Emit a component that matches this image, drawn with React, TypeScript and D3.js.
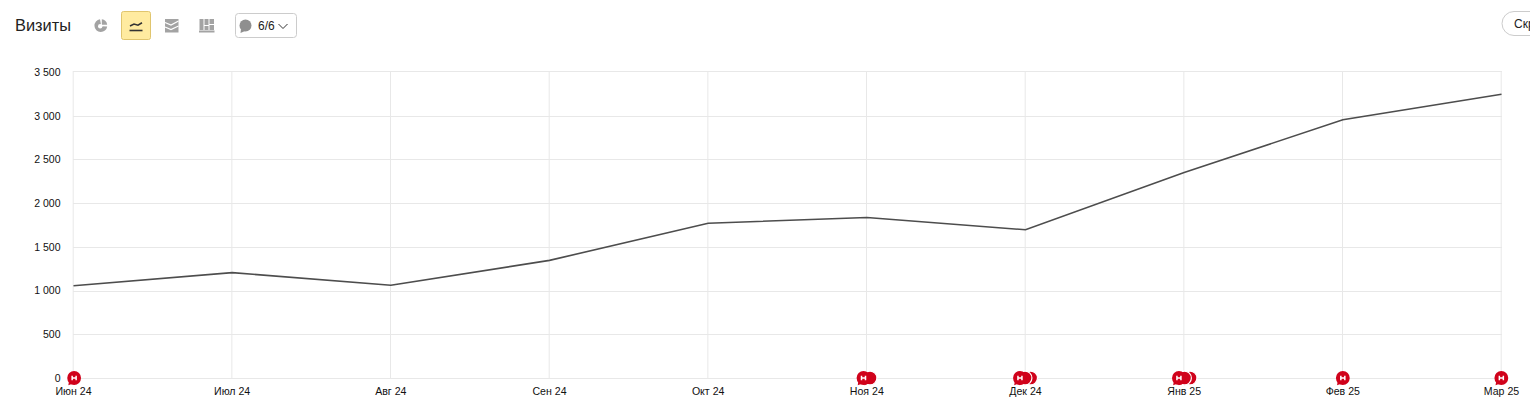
import React from "react";
import * as d3 from "d3";

const title = "Визиты";
const months = ["Июн 24", "Июл 24", "Авг 24", "Сен 24", "Окт 24", "Ноя 24", "Дек 24", "Янв 25", "Фев 25", "Мар 25"];
const visits = [1055, 1205, 1060, 1345, 1770, 1835, 1695, 2350, 2952, 3245];
const yTicks = [0, 500, 1000, 1500, 2000, 2500, 3000, 3500];
const yTickLabels = ["0", "500", "1 000", "1 500", "2 000", "2 500", "3 000", "3 500"];
// month positions of the notes; the first of each cluster lies on top
const noteClusters = [[0.004], [4.979, 5.02], [5.965, 5.997, 6.032], [6.967, 7.002, 7.037], [8], [8.999]];
const counterLabel = "6/6";
const cutLabel = "Скрыть";

const FONT = "'Liberation Sans', Arial, sans-serif";
const INK = "#4d4d4d";
const GRID = "#e8e8e8";
const RED = "#d0021b";
const ICON = "#a3a3a3";

function Marker({ x, y, front }: { x: number; y: number; front: boolean }) {
  return (
    <g transform={`translate(${x},${y})`}>
      <circle r={6.9} fill={RED} stroke="#fff" strokeWidth={front ? 0 : 1.2} />
      <path d="M-5,3 L-5.8,7.2 L-1,5.5 Z" fill={RED} />
      {front && (
        <path d="M-2,-2.3 V2.3 M2,-2.3 V2.3 M-2,0 H2" stroke="#fff" strokeWidth={1.5} fill="none" />
      )}
    </g>
  );
}

export default function App() {
  const x = d3.scaleLinear().domain([0, months.length - 1]).range([73.5, 1501.5]);
  const y = d3.scaleLinear().domain([0, 3500]).range([378, 71.9]);
  const line = d3.line<number>().x((_, i) => x(i)).y((d) => y(d));
  const gridY = (t: number) => (t === 3500 ? Math.floor(y(t)) : Math.round(y(t))) + 0.5;

  return (
    <svg
      width={1530}
      height={411}
      style={{ position: "absolute", left: 0, top: 0, display: "block", background: "#fff" }}
      fontFamily={FONT}
    >
      <text x={15} y={31} fontSize={16.4} fill="#222">{title}</text>

      {/* pie icon */}
      <g transform="translate(100.8,25.7)">
        <path d="M-0.8,-6.4 A6.4,6.4 0 1,0 6.4,0.8 L0.5,0.5 Z" fill={ICON} />
        <path d="M1,-6.4 A6.4,6.4 0 0,1 6.4,-1 L1,-1 Z" fill={ICON} />
        <circle r={2.2} cx={-0.6} cy={0.6} fill="#fff" />
      </g>

      {/* active line icon */}
      <rect x={121.5} y={11.5} width={29} height={28} rx={2} fill="#ffeba0" stroke="#e0c56e" />
      <path d="M130,26 L134,24 L138,25.2 L142,22.8" fill="none" stroke="#333" strokeWidth={1.6} />
      <path d="M129.5,30.5 H142.5" stroke="#333" strokeWidth={1.6} />

      {/* area icon */}
      <rect x={165} y={19} width={13.5} height={13.5} fill={ICON} />
      <g fill="none" stroke="#fff" strokeWidth={1.2}>
        <path d="M165,22.5 L171,25 L178.5,21" />
        <path d="M165,27 L171,29.5 L178.5,26" />
      </g>

      {/* column icon */}
      <g fill={ICON}>
        <rect x={199.5} y={19} width={4} height={11} />
        <rect x={204.5} y={19} width={4} height={6} />
        <rect x={204.5} y={26} width={4} height={4} />
        <rect x={209.5} y={19} width={4.5} height={5} />
        <rect x={209.5} y={25} width={4.5} height={5} />
        <rect x={199} y={30.5} width={15.5} height={2} />
      </g>

      {/* note filter button */}
      <rect x={235.5} y={13.5} width={61} height={24} rx={3} fill="#fff" stroke="#ccc" />
      <circle cx={245.5} cy={25.5} r={6} fill="#8f8f8f" />
      <path d="M241,29 L240.5,33 L245,31 Z" fill="#8f8f8f" />
      <text x={258} y={30} fontSize={12} fill="#222">{counterLabel}</text>
      <path d="M278.5,24 L283,28.5 L287.5,24" fill="none" stroke="#333" strokeWidth={1} />

      {/* cut-off pill */}
      <path d="M1530,11.5 H1514 A12,12 0 0,0 1514,35.5 H1530" fill="#fff" stroke="#ccc" />
      <text x={1514} y={28} fontSize={12} fill="#222">{cutLabel}</text>

      {/* grid */}
      <g stroke={GRID} strokeWidth={1}>
        {yTicks.map((t) => (
          <line key={t} x1={73} x2={1502} y1={gridY(t)} y2={gridY(t)} shapeRendering="crispEdges" />
        ))}
        {months.map((m, i) => (
          <line key={m} x1={x(i) - 0.3} x2={x(i) - 0.3} y1={71} y2={378} />
        ))}
      </g>

      {/* y axis labels */}
      <g fontSize={10.5} fill="#111" textAnchor="end">
        {yTicks.map((t, i) => (
          <text key={t} x={60.5} y={y(t) + 3.9}>{yTickLabels[i]}</text>
        ))}
      </g>

      {/* series */}
      <path d={line(visits) ?? ""} fill="none" stroke={INK} strokeWidth={1.6} />

      {/* notes */}
      {noteClusters.map((c) =>
        [...c].reverse().map((a) => <Marker key={a} x={x(a)} y={378} front={a === c[0]} />)
      )}

      {/* x axis labels */}
      <g fontSize={10.6} fill="#111" textAnchor="middle">
        {months.map((m, i) => (
          <text key={m} x={x(i)} y={395.3}>{m}</text>
        ))}
      </g>
    </svg>
  );
}
